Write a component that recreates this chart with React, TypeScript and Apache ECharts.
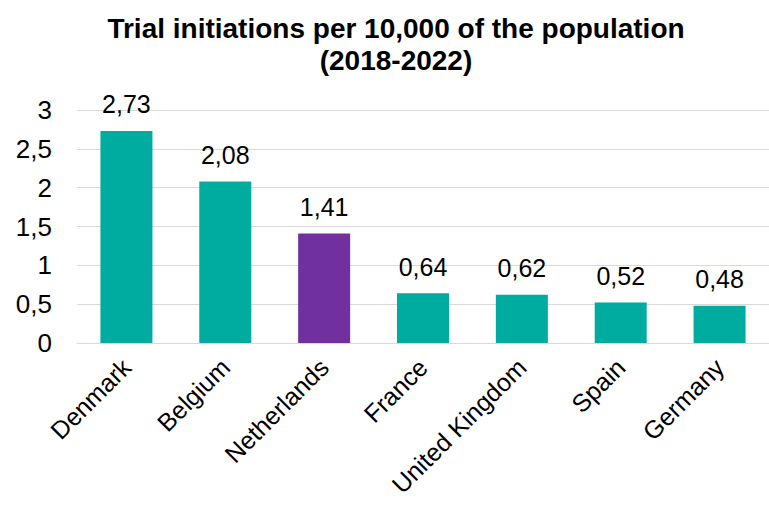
import React, { useEffect, useRef } from "react";
import * as echarts from "echarts";

const categories = ["Denmark", "Belgium", "Netherlands", "France", "United Kingdom", "Spain", "Germany"];
const values = [2.73, 2.08, 1.41, 0.64, 0.62, 0.52, 0.48];
const highlight = "Netherlands";
const titleText = "Trial initiations per 10,000 of the population\n(2018-2022)";

const fmt = (v: number) => String(v).replace(".", ",");
const FONT = "Liberation Sans, Arial, sans-serif";

export default function App() {
  const ref = useRef<HTMLDivElement>(null);
  useEffect(() => {
    const chart = echarts.init(ref.current!, null, { renderer: "svg" });
    chart.setOption({
      animation: false,
      textStyle: { fontFamily: FONT },
      title: {
        text: titleText,
        left: 391,
        textAlign: "center",
        top: 7,
        textStyle: { fontSize: 28, fontWeight: "bold", color: "#000", lineHeight: 32, fontFamily: FONT },
      },
      grid: { left: 77, top: 110, width: 692, height: 233, containLabel: false },
      xAxis: {
        type: "category",
        data: categories,
        axisLine: { show: true, lineStyle: { color: "#d9d9d9", width: 1 } },
        axisTick: { show: false },
        axisLabel: { rotate: 45, fontSize: 25, color: "#000", margin: 20, interval: 0, fontFamily: FONT },
      },
      yAxis: {
        type: "value",
        min: 0,
        max: 3,
        interval: 0.5,
        axisLine: { show: false },
        axisTick: { show: false },
        splitLine: { lineStyle: { color: "#d9d9d9", width: 1 } },
        axisLabel: { fontSize: 26, color: "#000", margin: 25, fontFamily: FONT, formatter: (v: number) => fmt(v) },
      },
      series: [
        {
          type: "bar",
          barWidth: 52,
          data: values.map((v, i) => ({
            value: v,
            itemStyle: { color: categories[i] === highlight ? "#7030A0" : "#00AC9F" },
          })),
          label: {
            show: true,
            position: "top",
            distance: 14,
            fontSize: 25,
            color: "#000",
            fontFamily: FONT,
            formatter: (p: any) => fmt(p.value),
          },
        },
      ],
    });
    return () => chart.dispose();
  }, []);
  return <div ref={ref} style={{ width: 769, height: 505, position: "absolute", left: 0, top: 0 }} />;
}
